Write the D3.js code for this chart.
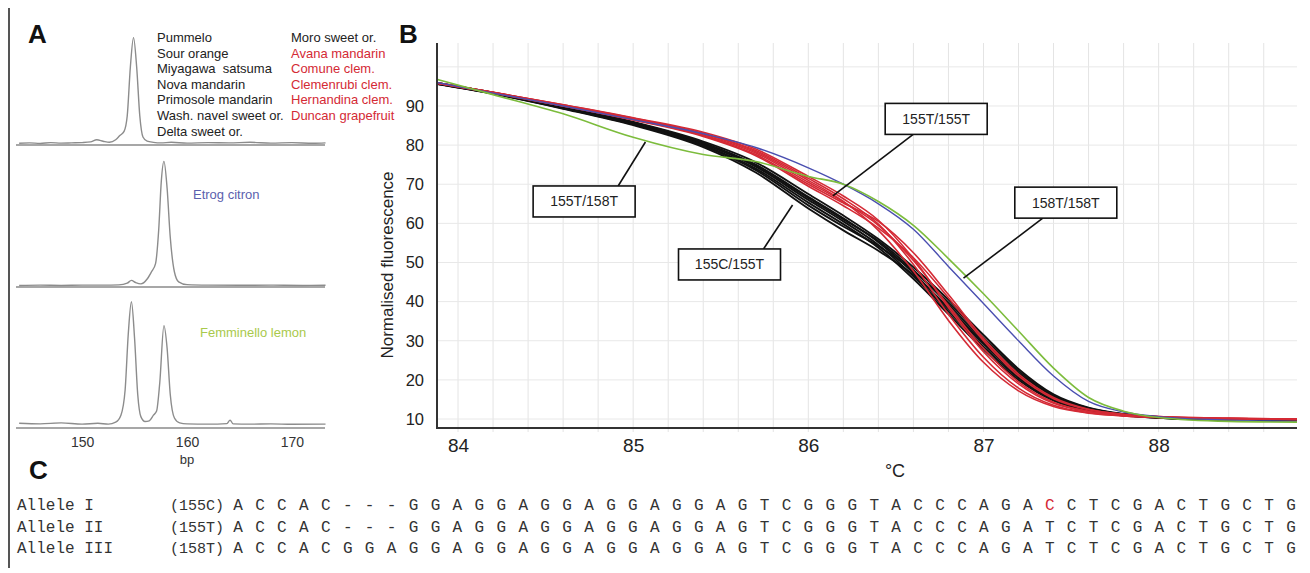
<!DOCTYPE html>
<html>
<head>
<meta charset="utf-8">
<script src="https://cdn.jsdelivr.net/npm/d3@7"></script>
<style>
  html, body { margin: 0; padding: 0; background: #fff; }
  svg { display: block; font-family: "Liberation Sans", Arial, sans-serif; }
</style>
</head>
<body>
<svg id="fig" width="1310" height="573"></svg>
<script>
// ---------------- Panel A: fragment-size traces (bp vs. signal) ----------------
const bpTicks = [150, 160, 170];

const trace155Bp  = [144, 145, 146, 147, 148, 149, 150, 150.8, 151.4, 152, 152.6, 153.2, 153.6, 154.0, 154.3, 154.6, 154.9, 155.2, 155.5, 155.8, 156.2, 156.8, 157.5, 158.5, 160, 162, 164, 166, 168, 170, 172, 173.2];
const trace155Val = [0.005, 0.008, 0.004, 0.01, 0.006, 0.008, 0.01, 0.015, 0.03, 0.02, 0.012, 0.03, 0.06, 0.09, 0.2, 0.55, 0.76, 0.55, 0.2, 0.05, 0.02, 0.012, 0.008, 0.012, 0.006, 0.01, 0.008, 0.012, 0.006, 0.01, 0.005, 0.008];

const trace158Bp  = [144, 146, 148, 150, 152, 153.5, 154.3, 154.7, 155.1, 155.6, 156.2, 156.6, 157.0, 157.3, 157.55, 157.8, 158.1, 158.4, 158.8, 159.2, 160, 162, 165, 168, 171, 173.2];
const trace158Val = [0.004, 0.006, 0.004, 0.006, 0.006, 0.008, 0.02, 0.04, 0.025, 0.015, 0.05, 0.1, 0.16, 0.4, 0.75, 0.89, 0.7, 0.35, 0.1, 0.03, 0.01, 0.006, 0.005, 0.006, 0.004, 0.005];

const traceHetBp  = [144, 146, 148, 150, 151.5, 152.5, 153.2, 153.7, 154.1, 154.4, 154.7, 155.0, 155.3, 155.6, 156.0, 156.4, 156.8, 157.1, 157.4, 157.8, 158.1, 158.4, 158.8, 159.3, 160, 162, 163.8, 164.1, 164.4, 166, 168, 170, 173.2];
const traceHetVal = [0.012, 0.008, 0.015, 0.006, 0.012, 0.006, 0.02, 0.07, 0.25, 0.65, 0.88, 0.62, 0.22, 0.06, 0.025, 0.03, 0.07, 0.1, 0.3, 0.71, 0.55, 0.22, 0.05, 0.015, 0.008, 0.006, 0.01, 0.035, 0.008, 0.006, 0.008, 0.005, 0.006];

// accessions sharing the 155 bp profile, split by HRM genotype colour
const accessions155C155T = ["Pummelo", "Sour orange", "Miyagawa  satsuma", "Nova mandarin", "Primosole mandarin", "Wash. navel sweet or.", "Delta sweet or.", "Moro sweet or."];
const accessions155T155T = ["Avana mandarin", "Comune clem.", "Clemenrubi clem.", "Hernandina clem.", "Duncan grapefruit"];
const accession158 = "Etrog citron";
const accessionHet = "Femminello lemon";

// ---------------- Panel B: normalised melting curves ----------------
const tempTicks = [84, 85, 86, 87, 88];
const fluorTicks = [10, 20, 30, 40, 50, 60, 70, 80, 90];
const meltTemps = [83.88, 84.2, 84.6, 85.0, 85.4, 85.7, 86.0, 86.2, 86.4, 86.6, 86.8, 87.0, 87.2, 87.4, 87.6, 87.8, 88.0, 88.4, 88.79];

const curves155C155T = [
  [95.8, 93.3, 89.6, 85.6, 80.3, 74.5, 66.0, 60.5, 54.5, 46.5, 37.5, 28.5, 20.5, 15.0, 12.3, 11.0, 10.3, 9.8, 9.6],
  [95.9, 93.4, 89.8, 85.8, 80.6, 75.0, 66.8, 61.3, 55.2, 47.3, 38.2, 29.2, 21.0, 15.4, 12.5, 11.1, 10.4, 9.8, 9.6],
  [95.7, 93.2, 89.5, 85.4, 80.0, 74.0, 65.3, 59.8, 53.8, 45.8, 36.8, 27.8, 20.0, 14.7, 12.1, 10.9, 10.3, 9.8, 9.6],
  [95.8, 93.3, 89.7, 85.7, 80.5, 74.8, 66.5, 61.0, 55.5, 48.0, 39.3, 30.0, 21.8, 15.8, 12.7, 11.2, 10.4, 9.9, 9.6],
  [95.6, 93.1, 89.3, 85.1, 79.5, 73.0, 63.8, 58.2, 53.0, 46.8, 38.5, 29.5, 21.2, 15.3, 12.4, 11.0, 10.3, 9.8, 9.5],
  [95.9, 93.4, 89.8, 85.9, 80.9, 75.6, 67.5, 62.0, 56.0, 48.8, 40.5, 31.5, 22.8, 16.3, 12.9, 11.3, 10.5, 9.9, 9.6],
  [95.7, 93.2, 89.4, 85.3, 79.8, 73.6, 64.6, 59.2, 54.2, 47.8, 39.8, 30.8, 22.3, 16.0, 12.8, 11.2, 10.4, 9.8, 9.5]
];
const curves155T155T = [
  [95.8, 93.4, 90.1, 86.6, 82.6, 78.0, 70.5, 65.5, 59.5, 50.5, 39.0, 28.0, 19.5, 14.3, 12.0, 11.0, 10.5, 10.1, 9.9],
  [95.9, 93.5, 90.3, 86.9, 83.0, 78.6, 71.5, 66.3, 59.8, 49.5, 36.8, 25.8, 17.9, 13.5, 11.6, 10.8, 10.4, 10.1, 9.9],
  [95.8, 93.4, 90.0, 86.4, 82.2, 77.3, 69.5, 64.5, 58.8, 51.2, 41.0, 30.0, 21.0, 15.2, 12.4, 11.2, 10.6, 10.2, 10.0],
  [95.9, 93.5, 90.2, 86.8, 82.9, 78.3, 71.0, 65.6, 58.2, 47.8, 35.2, 24.5, 17.2, 13.2, 11.5, 10.8, 10.4, 10.1, 9.9],
  [95.8, 93.3, 90.0, 86.5, 82.4, 77.6, 70.0, 65.2, 60.5, 52.5, 41.8, 30.6, 21.5, 15.5, 12.5, 11.2, 10.6, 10.2, 10.0],
  [95.9, 93.5, 90.3, 87.0, 83.3, 79.0, 72.0, 67.0, 60.8, 51.0, 38.5, 27.2, 19.0, 14.0, 11.9, 11.0, 10.5, 10.1, 9.9]
];
const curve158T158T = [96.0, 93.3, 90.0, 86.5, 82.9, 79.4, 74.2, 70.0, 65.0, 58.5, 49.0, 39.5, 30.0, 21.0, 14.5, 11.8, 10.6, 9.7, 9.4];
const curve155T158T = [96.8, 92.9, 88.0, 82.0, 77.6, 75.8, 72.0, 70.0, 65.6, 59.5, 51.0, 42.0, 32.5, 23.0, 15.5, 12.0, 10.4, 9.4, 9.2];

// genotype call-outs: box centre and the point on the curve it refers to (°C, fluorescence)
const calloutLabels  = ["155T/158T", "155T/155T", "158T/158T", "155C/155T"];
const calloutBoxTemp = [84.72, 86.73, 87.47, 85.55];
const calloutBoxFl   = [65.6, 86.7, 65.3, 49.5];
const calloutTipTemp = [85.07, 86.14, 86.886, 85.91];
const calloutTipFl   = [80.8, 67.0, 46.0, 64.7];

// ---------------- Panel C: allele sequences ----------------
const alleleNames = ["Allele I", "Allele II", "Allele III"];
const alleleTags  = ["(155C)", "(155T)", "(158T)"];
const alleleSeqs  = [
  "ACCAC---GGAGGAGGAGGAGGAGTCGGGTACCCAGACCTCGACTGCTG",
  "ACCAC---GGAGGAGGAGGAGGAGTCGGGTACCCAGATCTCGACTGCTG",
  "ACCACGGAGGAGGAGGAGGAGGAGTCGGGTACCCAGATCTCGACTGCTG"
];
const snpAllele = 0, snpPos = 37;

// ======================================================================
const svg = d3.select("#fig");
svg.append("rect").attr("width", 1310).attr("height", 573).attr("fill", "#fff");

const RED = "#d42a35", BLACK = "#111", BLUE = "#4a4fb0", GREEN = "#7cbc3c";

// left frame rule
svg.append("line").attr("x1", 9).attr("x2", 9).attr("y1", 8).attr("y2", 568)
  .attr("stroke", "#555").attr("stroke-width", 2);

// panel letters
[["A", 28, 43], ["B", 399, 43], ["C", 29, 479]].forEach(([t, x, y]) => {
  svg.append("text").attr("x", x).attr("y", y).text(t)
    .attr("font-size", 26).attr("font-weight", "bold").attr("fill", "#111");
});

// ---------- Panel A ----------
const xA = d3.scaleLinear().domain([143.7, 173.15]).range([16, 325]);
const yA = d3.scaleLinear().domain([0, 1]).range([0, -140]);
const traceLine = d3.line().curve(d3.curveMonotoneX);

const traces = [
  { bp: trace155Bp, val: trace155Val, base: 144 },
  { bp: trace158Bp, val: trace158Val, base: 286 },
  { bp: traceHetBp, val: traceHetVal, base: 425 }
];
const axisBases = [145, 287, 428];
axisBases.forEach(b => {
  svg.append("line").attr("x1", 16).attr("x2", 325).attr("y1", b).attr("y2", b)
    .attr("stroke", "#8a8a8a").attr("stroke-width", 1.5);
});
traces.forEach(t => {
  const pts = t.bp.map((b, i) => [xA(b), t.base + yA(t.val[i])]);
  svg.append("path").attr("d", traceLine(pts)).attr("fill", "none")
    .attr("stroke", "#8c8c8c").attr("stroke-width", 1.4);
});

const axA = svg.append("g").attr("transform", "translate(0,428)")
  .call(d3.axisBottom(xA).tickValues(bpTicks).tickFormat(d3.format("d")).tickSize(0).tickPadding(9));
axA.select(".domain").remove();
axA.selectAll("text").attr("font-size", 14).attr("fill", "#333")
  .attr("font-family", "Liberation Sans, Arial, sans-serif");
svg.append("text").attr("x", xA(160)).attr("y", 464).attr("text-anchor", "middle")
  .attr("font-size", 13).attr("fill", "#333").text("bp");

// accession lists
const legendRows = accessions155C155T.map(n => ({ name: n, color: "#222" }))
  .concat(accessions155T155T.map(n => ({ name: n, color: RED })));
legendRows.forEach((d, i) => {
  const col = i < 7 ? 0 : 1, row = i < 7 ? i : i - 7;
  svg.append("text").attr("x", col ? 291 : 157).attr("y", 42 + row * 15.6)
    .attr("font-size", 13).attr("fill", d.color).style("white-space", "pre")
    .text(d.name);
});
svg.append("text").attr("x", 193).attr("y", 199).attr("font-size", 13)
  .attr("fill", "#5b5fae").text(accession158);
svg.append("text").attr("x", 200).attr("y", 337).attr("font-size", 13)
  .attr("fill", "#a9c94b").text(accessionHet);

// ---------- Panel B ----------
const xB = d3.scaleLinear().domain([83.88, 88.79]).range([437, 1297]);
const yB = d3.scaleLinear().domain([7.7, 106.1]).range([428, 43]);

const gridT = d3.range(0, 24).map(i => +(84 + i * 0.2).toFixed(1));
svg.append("g").selectAll("line").data(gridT).join("line")
  .attr("x1", d => xB(d)).attr("x2", d => xB(d)).attr("y1", 43).attr("y2", 432)
  .attr("stroke", "#e4e4e4").attr("stroke-width", 1);
svg.append("g").selectAll("line").data(fluorTicks.concat([100])).join("line")
  .attr("x1", 437).attr("x2", 1297).attr("y1", d => yB(d)).attr("y2", d => yB(d))
  .attr("stroke", "#e8e8e8").attr("stroke-width", 1);

const meltLine = d3.line().x((v, i) => xB(meltTemps[i])).y(v => yB(v)).curve(d3.curveMonotoneX);
const curveG = svg.append("g").attr("fill", "none").attr("stroke-linejoin", "round");
curves155C155T.forEach(c => curveG.append("path").attr("d", meltLine(c))
  .attr("stroke", BLACK).attr("stroke-width", 1.9));
curves155T155T.forEach(c => curveG.append("path").attr("d", meltLine(c))
  .attr("stroke", RED).attr("stroke-width", 1.6));
curveG.append("path").attr("d", meltLine(curve158T158T)).attr("stroke", BLUE).attr("stroke-width", 1.4);
curveG.append("path").attr("d", meltLine(curve155T158T)).attr("stroke", GREEN).attr("stroke-width", 1.6);

// axes
svg.append("line").attr("x1", 437).attr("x2", 437).attr("y1", 43).attr("y2", 429)
  .attr("stroke", "#333").attr("stroke-width", 2);
svg.append("line").attr("x1", 436).attr("x2", 1297).attr("y1", 428).attr("y2", 428)
  .attr("stroke", "#333").attr("stroke-width", 2);

const axY = svg.append("g").attr("transform", "translate(437,0)")
  .call(d3.axisLeft(yB).tickValues(fluorTicks).tickFormat(d3.format("d")).tickSize(0).tickPadding(13));
axY.select(".domain").remove();
axY.selectAll("text").attr("font-size", 16.5).attr("fill", "#222")
  .attr("font-family", "Liberation Sans, Arial, sans-serif");

const axX = svg.append("g").attr("transform", "translate(0,428)")
  .call(d3.axisBottom(xB).tickValues(tempTicks).tickFormat(d3.format("d")).tickSize(0).tickPadding(11));
axX.select(".domain").remove();
axX.selectAll("text").attr("font-size", 19).attr("fill", "#222")
  .attr("font-family", "Liberation Sans, Arial, sans-serif");

svg.append("text").attr("x", 895).attr("y", 477).attr("text-anchor", "middle")
  .attr("font-size", 18).attr("fill", "#222").text("°C");
svg.append("text").attr("transform", "translate(393,265) rotate(-90)")
  .attr("text-anchor", "middle").attr("font-size", 17).attr("fill", "#222")
  .text("Normalised fluorescence");

// call-outs
const boxW = 102, boxH = 31;
calloutLabels.forEach((lab, i) => {
  const cx = xB(calloutBoxTemp[i]), cy = yB(calloutBoxFl[i]);
  const tx = xB(calloutTipTemp[i]), ty = yB(calloutTipFl[i]);
  const fromTop = ty < cy;
  const sx = cx + (tx > cx ? 34 : -23);
  const sy = fromTop ? cy - boxH / 2 : cy + boxH / 2;
  svg.append("line").attr("x1", sx).attr("y1", sy).attr("x2", tx).attr("y2", ty)
    .attr("stroke", "#111").attr("stroke-width", 1.6);
  svg.append("rect").attr("x", cx - boxW / 2).attr("y", cy - boxH / 2)
    .attr("width", boxW).attr("height", boxH).attr("fill", "#fff")
    .attr("stroke", "#111").attr("stroke-width", 1.6);
  svg.append("text").attr("x", cx).attr("y", cy + 5).attr("text-anchor", "middle")
    .attr("font-size", 14).attr("fill", "#222").text(lab);
});

// ---------- Panel C ----------
const seqX = d3.scalePoint().domain(d3.range(alleleSeqs[0].length)).range([238, 1291]);
const rowY = d3.scalePoint().domain(d3.range(alleleSeqs.length)).range([510, 553]);
const mono = "Liberation Mono, Courier New, monospace";
const seqFont = 16;
alleleSeqs.forEach((seq, r) => {
  const y = rowY(r);
  svg.append("text").attr("x", 17).attr("y", y).attr("font-family", mono)
    .attr("font-size", seqFont).attr("fill", "#333").text(alleleNames[r]);
  svg.append("text").attr("x", 170).attr("y", y).attr("font-family", mono)
    .attr("font-size", 15).attr("fill", "#333").text(alleleTags[r]);
  svg.append("g").selectAll("text").data(seq.split("")).join("text")
    .attr("x", (d, i) => seqX(i)).attr("y", y).attr("text-anchor", "middle")
    .attr("font-family", mono).attr("font-size", seqFont)
    .attr("fill", (d, i) => (r === snpAllele && i === snpPos) ? RED : "#333")
    .text(d => d);
});
</script>
</body>
</html>
